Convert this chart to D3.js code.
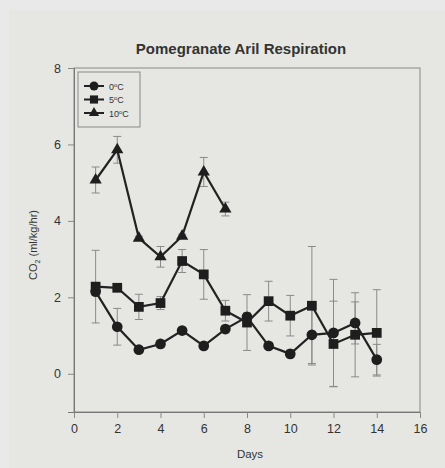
<!DOCTYPE html>
<html>
<head>
<meta charset="utf-8">
<script src="https://cdn.jsdelivr.net/npm/d3@7"></script>
<style>
  body { margin: 0; background: #e9e9ea; }
  text { font-family: "Liberation Sans", Arial, sans-serif; fill: #333; }
</style>
</head>
<body>
<script>
// days sampled
let days = [1, 2, 3, 4, 5, 6, 7, 8, 9, 10, 11, 12, 13, 14];

// CO2 rates (ml/kg/hr)
let c0 = [2.15, 1.23, 0.63, 0.78, 1.13, 0.73, 1.17, 1.49, 0.73, 0.52, 1.02, 1.07, 1.33, 0.37];
let c0err = [0.1, 0.48, 0.08, 0.1, 0.08, 0.08, 0.1, 0.1, 0.08, 0.1, 0.75, 1.4, 0.55, 0.4];
let c5 = [2.28, 2.25, 1.75, 1.85, 2.95, 2.6, 1.65, 1.34, 1.9, 1.52, 1.78, 0.78, 1.02, 1.07];
let c5err = [0.95, 0.08, 0.33, 0.17, 0.3, 0.65, 0.27, 0.73, 0.52, 0.53, 1.55, 1.12, 1.1, 1.13];
let c10 = [5.07, 5.86, 3.55, 3.06, 3.6, 5.28, 4.31];
let c10err = [0.34, 0.35, 0.05, 0.27, 0.05, 0.38, 0.18];

let seriesNames = ["0", "5", "10"];
let xTicks = [0, 2, 4, 6, 8, 10, 12, 14, 16];
let yTicks = [0, 2, 4, 6, 8];

let svgWidth = 445;
let svgHeight = 468;

let margin = { top: 68, right: 25, bottom: 56, left: 74 };
let width = 420 - margin.left;
let height = 412 - margin.top;

let svg = d3.select("body").append("svg")
  .attr("width", svgWidth)
  .attr("height", svgHeight);

// slightly different inner panel like the scanned page
svg.append("rect")
  .attr("x", 9).attr("y", 10)
  .attr("width", svgWidth - 9).attr("height", svgHeight - 10)
  .attr("fill", "#e6e7e3");

let chartGroup = svg.append("g")
  .attr("transform", `translate(${margin.left}, ${margin.top})`);

let xScale = d3.scaleLinear().domain([0, 16]).range([0, width]);
let yScale = d3.scaleLinear().domain([-1, 8]).range([height, 0]);

// frame
chartGroup.append("rect")
  .attr("width", width).attr("height", height)
  .attr("fill", "none")
  .attr("stroke", "#888")
  .attr("stroke-width", 1);

let bottomAxis = d3.axisBottom(xScale).tickValues(xTicks).tickSize(6).tickPadding(6);
let leftAxis = d3.axisLeft(yScale).tickValues(yTicks).tickSize(6).tickPadding(7);

let xAxis = chartGroup.append("g")
  .attr("transform", `translate(0, ${height})`)
  .call(bottomAxis);
let yAxis = chartGroup.append("g").call(leftAxis);

[xAxis, yAxis].forEach(function(ax) {
  ax.select(".domain").attr("stroke", "#777");
  ax.selectAll(".tick line").attr("stroke", "#888");
  ax.selectAll(".tick text")
    .attr("font-size", 12.5)
    .attr("font-family", "Liberation Sans, Arial, sans-serif")
    .attr("fill", "#444");
});

// title + axis labels
svg.append("text")
  .attr("x", 241).attr("y", 54)
  .attr("text-anchor", "middle")
  .attr("font-size", 15)
  .attr("font-weight", "bold")
  .text("Pomegranate Aril Respiration");

svg.append("text")
  .attr("x", 250).attr("y", 458)
  .attr("text-anchor", "middle")
  .attr("font-size", 11.5)
  .text("Days");

let yLab = svg.append("text")
  .attr("transform", "translate(37, 245) rotate(-90)")
  .attr("text-anchor", "middle")
  .attr("font-size", 11);
yLab.append("tspan").text("CO");
yLab.append("tspan").attr("font-size", 7).attr("dy", 3).text("2");
yLab.append("tspan").attr("dy", -3).text(" (ml/kg/hr)");

function toRows(vals, errs) {
  return vals.map((v, i) => ({ day: days[i], v: v, e: errs[i] }));
}

let series = [
  { name: "0", rows: toRows(c0, c0err), shape: d3.symbolCircle, size: 90 },
  { name: "5", rows: toRows(c5, c5err), shape: d3.symbolSquare, size: 95 },
  { name: "10", rows: toRows(c10, c10err), shape: d3.symbolTriangle, size: 65 }
];

let line = d3.line()
  .x(d => xScale(d.day))
  .y(d => yScale(d.v));

// error bars first
series.forEach(function(s) {
  let g = chartGroup.append("g").attr("stroke", "#8a8a8a").attr("stroke-width", 1);
  s.rows.forEach(function(d) {
    let x = xScale(d.day);
    let y1 = yScale(d.v + d.e);
    let y2 = yScale(d.v - d.e);
    g.append("line").attr("x1", x).attr("x2", x).attr("y1", y1).attr("y2", y2);
    g.append("line").attr("x1", x - 4).attr("x2", x + 4).attr("y1", y1).attr("y2", y1);
    g.append("line").attr("x1", x - 4).attr("x2", x + 4).attr("y1", y2).attr("y2", y2);
  });
});

// lines and markers
series.forEach(function(s) {
  chartGroup.append("path")
    .datum(s.rows)
    .attr("d", line)
    .attr("fill", "none")
    .attr("stroke", "#222")
    .attr("stroke-width", 2.2);

  chartGroup.selectAll(null)
    .data(s.rows)
    .enter()
    .append("path")
    .attr("d", d3.symbol().type(s.shape).size(s.size))
    .attr("transform", d => `translate(${xScale(d.day)}, ${yScale(d.v)})`)
    .attr("fill", "#1e1e1e");
});

// legend
let legend = chartGroup.append("g").attr("transform", "translate(4, 4)");
legend.append("rect")
  .attr("width", 62).attr("height", 55)
  .attr("fill", "none")
  .attr("stroke", "#888");

series.forEach(function(s, i) {
  let ly = 14 + i * 13.5;
  legend.append("line")
    .attr("x1", 6).attr("x2", 26)
    .attr("y1", ly).attr("y2", ly)
    .attr("stroke", "#222").attr("stroke-width", 2);
  legend.append("path")
    .attr("d", d3.symbol().type(s.shape).size(s.size * 0.7))
    .attr("transform", `translate(16, ${ly})`)
    .attr("fill", "#1e1e1e");
  let t = legend.append("text")
    .attr("x", 31).attr("y", ly + 3.5)
    .attr("font-size", 9);
  t.append("tspan").text(s.name);
  t.append("tspan").attr("font-size", 6).attr("dy", -3).text("o");
  t.append("tspan").attr("dy", 3).text("C");
});
</script>
</body>
</html>
